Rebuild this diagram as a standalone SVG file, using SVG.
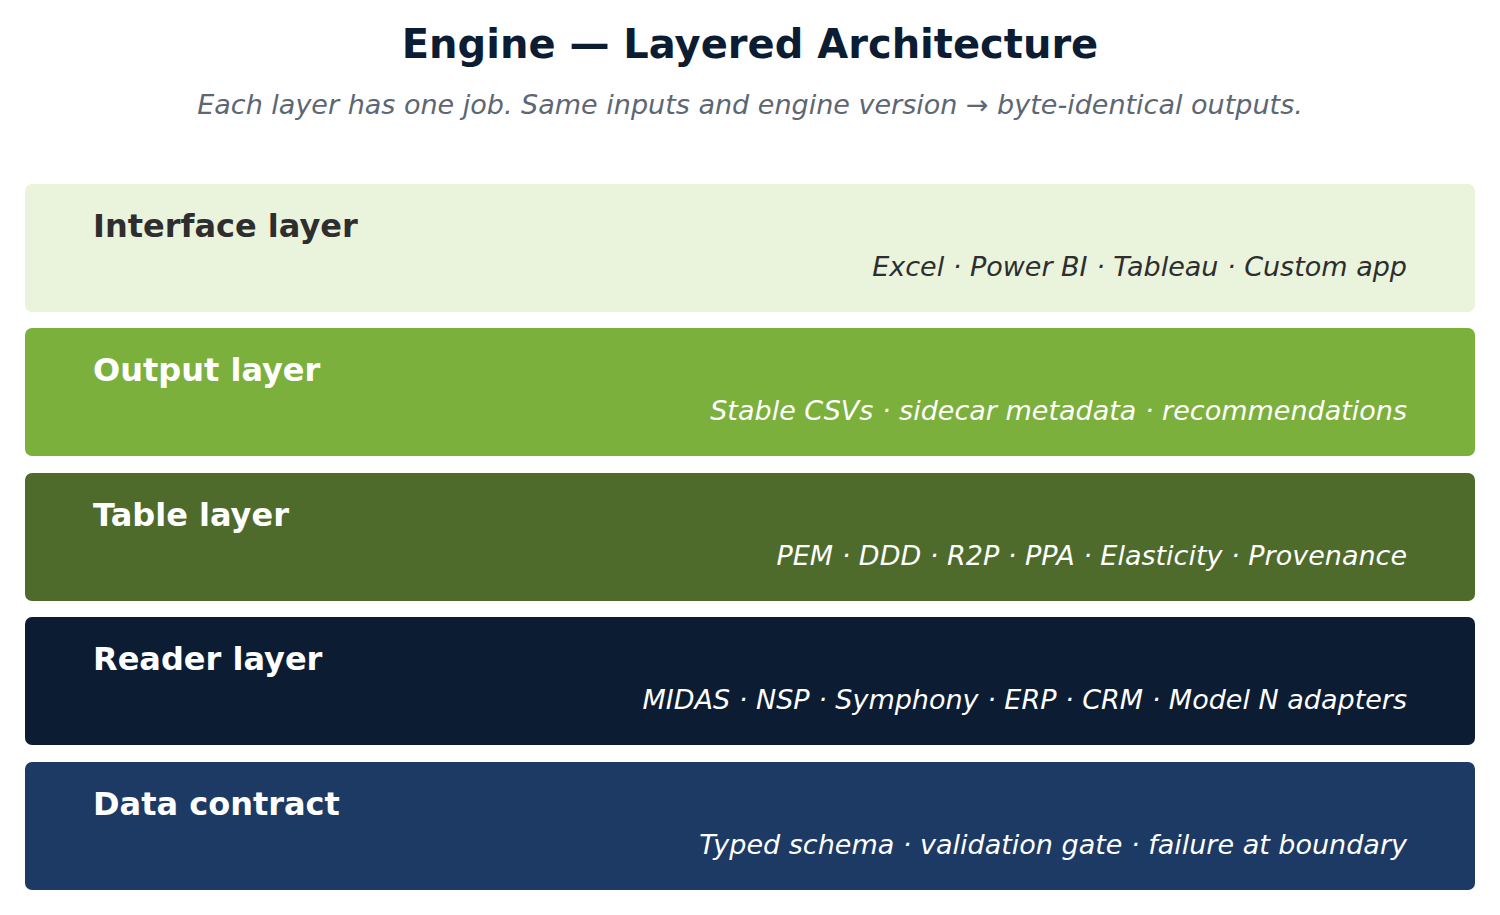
<svg xmlns="http://www.w3.org/2000/svg" width="1500" height="915" viewBox="0 0 1500 915">
<style>
.t{font-family:"DejaVu Sans",sans-serif;font-weight:bold;font-size:40px;fill:#0b1c33}
.s{font-family:"DejaVu Sans",sans-serif;font-style:italic;font-size:27px;fill:#5d6673}
.h{font-family:"DejaVu Sans",sans-serif;font-weight:bold;font-size:32px}
.d{font-family:"DejaVu Sans",sans-serif;font-style:italic;font-size:27px}
.dark{fill:#2e2e2e}.light{fill:#ffffff}
</style>
<rect width="1500" height="915" fill="#ffffff"/>
<text class="t" x="750" y="58" text-anchor="middle">Engine — Layered Architecture</text>
<text class="s" x="750" y="114" text-anchor="middle">Each layer has one job. Same inputs and engine version → byte-identical outputs.</text>
<g id="interface"><rect x="25" y="184" width="1450" height="128" rx="7" fill="#eaf3dc"/><text class="h dark" x="93" y="237">Interface layer</text><text class="d dark" x="1407" y="276" text-anchor="end">Excel · Power BI · Tableau · Custom app</text></g>
<g id="output"><rect x="25" y="328" width="1450" height="128" rx="7" fill="#7cb03c"/><text class="h light" x="93" y="381">Output layer</text><text class="d light" x="1407" y="420" text-anchor="end">Stable CSVs · sidecar metadata · recommendations</text></g>
<g id="table"><rect x="25" y="473" width="1450" height="128" rx="7" fill="#4e6b2c"/><text class="h light" x="93" y="526">Table layer</text><text class="d light" x="1407" y="565" text-anchor="end">PEM · DDD · R2P · PPA · Elasticity · Provenance</text></g>
<g id="reader"><rect x="25" y="617" width="1450" height="128" rx="7" fill="#0b1c33"/><text class="h light" x="93" y="670">Reader layer</text><text class="d light" x="1407" y="709" text-anchor="end">MIDAS · NSP · Symphony · ERP · CRM · Model N adapters</text></g>
<g id="contract"><rect x="25" y="762" width="1450" height="128" rx="7" fill="#1c3a64"/><text class="h light" x="93" y="815">Data contract</text><text class="d light" x="1407" y="854" text-anchor="end">Typed schema · validation gate · failure at boundary</text></g>
<g id="connectors"/>
</svg>
